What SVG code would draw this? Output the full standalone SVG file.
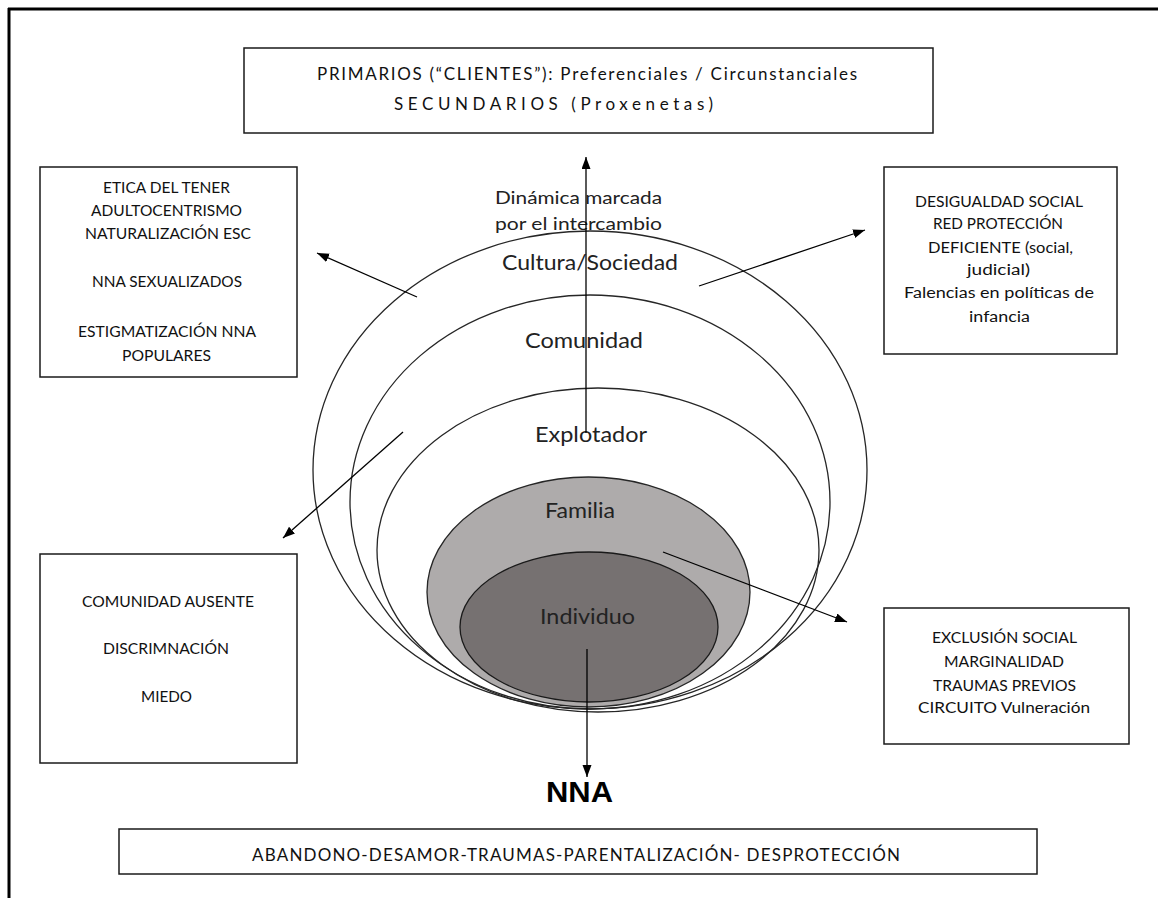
<svg xmlns="http://www.w3.org/2000/svg" width="1158" height="898" viewBox="0 0 1158 898">
<defs>
<marker id="ah" markerUnits="userSpaceOnUse" markerWidth="13" markerHeight="10" refX="12" refY="4.5" orient="auto"><path d="M0,0 L12,4.5 L0,9 z" fill="#000"/></marker>
<style>
.box{fill:#fff;stroke:#1a1a1a;stroke-width:1.5}
.ring{fill:none;stroke:#262626;stroke-width:1.3}
.lbl{font-family:Lato,"Open Sans","Liberation Sans",sans-serif;font-size:22px;fill:#222}
.lbl2{font-family:Lato,"Open Sans","Liberation Sans",sans-serif;font-size:18px;fill:#222}
.bt{font-family:Lato,"Liberation Sans",sans-serif;font-size:14.5px;fill:#111}
.tt{font-family:Lato,"Liberation Sans",sans-serif;font-size:17px;fill:#111}
.conn{stroke:#000;stroke-width:1.3;fill:none;marker-end:url(#ah)}
</style>
</defs>
<rect x="0" y="0" width="1158" height="898" fill="#fff"/>
<g id="frame" fill="none" stroke="#000" stroke-width="3">
<line x1="9" y1="8" x2="9" y2="898"/>
<line x1="8" y1="9" x2="1158" y2="9"/>
</g>

<g id="cultura">
<ellipse class="ring" cx="590" cy="470" rx="277" ry="239"/>
<text class="lbl" x="502" y="270" textLength="176" lengthAdjust="spacingAndGlyphs">Cultura/Sociedad</text>
</g>
<g id="comunidad">
<ellipse class="ring" cx="590" cy="502" rx="240" ry="207"/>
<text class="lbl" x="525" y="348" textLength="118" lengthAdjust="spacingAndGlyphs">Comunidad</text>
</g>
<g id="explotador">
<ellipse class="ring" cx="598" cy="550" rx="221" ry="162"/>
<text class="lbl" x="535" y="442" textLength="112" lengthAdjust="spacingAndGlyphs">Explotador</text>
</g>
<g id="familia">
<ellipse cx="588.5" cy="592" rx="161.5" ry="115" fill="#aeabab" stroke="#262626" stroke-width="1.3"/>
<text class="lbl" x="545" y="518" textLength="70" lengthAdjust="spacingAndGlyphs">Familia</text>
</g>
<g id="individuo">
<ellipse cx="589" cy="627" rx="129" ry="75" fill="#767171" stroke="#1a1a1a" stroke-width="1.3"/>
<text class="lbl" x="540" y="624" textLength="95" lengthAdjust="spacingAndGlyphs">Individuo</text>
</g>

<g id="dinamica">
<text class="lbl2" x="495" y="204" textLength="167" lengthAdjust="spacingAndGlyphs">Dinámica marcada</text>
<text class="lbl2" x="495" y="230" textLength="167" lengthAdjust="spacingAndGlyphs">por el intercambio</text>
</g>

<g id="top-box">
<rect class="box" x="244" y="48" width="689" height="85"/>
<text class="tt" x="317" y="80" textLength="540" lengthAdjust="spacing">PRIMARIOS (“CLIENTES”):  Preferenciales / Circunstanciales</text>
<text class="tt" x="394" y="110" font-size="18" textLength="319" lengthAdjust="spacing">SECUNDARIOS (Proxenetas)</text>
</g>

<g id="box-cultura-left">
<rect class="box" x="40" y="167" width="257" height="210"/>
<text class="bt" x="103" y="193" textLength="127" lengthAdjust="spacingAndGlyphs">ETICA DEL TENER</text>
<text class="bt" x="91" y="216" textLength="151" lengthAdjust="spacingAndGlyphs">ADULTOCENTRISMO</text>
<text class="bt" x="85" y="239" textLength="166" lengthAdjust="spacingAndGlyphs">NATURALIZACIÓN ESC</text>
<text class="bt" x="92" y="287" textLength="150" lengthAdjust="spacingAndGlyphs">NNA SEXUALIZADOS</text>
<text class="bt" x="78" y="337" textLength="178" lengthAdjust="spacingAndGlyphs">ESTIGMATIZACIÓN NNA</text>
<text class="bt" x="122" y="361" textLength="89" lengthAdjust="spacingAndGlyphs">POPULARES</text>
</g>

<g id="box-cultura-right">
<rect class="box" x="884" y="167" width="233" height="187"/>
<text class="bt" x="915" y="207" textLength="168" lengthAdjust="spacingAndGlyphs">DESIGUALDAD SOCIAL</text>
<text class="bt" x="933" y="229" textLength="130" lengthAdjust="spacingAndGlyphs">RED PROTECCIÓN</text>
<text class="bt" x="928" y="253" textLength="145" lengthAdjust="spacingAndGlyphs">DEFICIENTE (social,</text>
<text class="bt" x="967" y="275" textLength="63" lengthAdjust="spacingAndGlyphs">judicial)</text>
<text class="bt" x="904" y="298" textLength="190" lengthAdjust="spacingAndGlyphs">Falencias en políticas de</text>
<text class="bt" x="969" y="322" textLength="61" lengthAdjust="spacingAndGlyphs">infancia</text>
</g>

<g id="box-comunidad">
<rect class="box" x="40" y="554" width="257" height="209"/>
<text class="bt" x="82" y="607" textLength="172" lengthAdjust="spacingAndGlyphs">COMUNIDAD AUSENTE</text>
<text class="bt" x="103" y="654" textLength="126" lengthAdjust="spacingAndGlyphs">DISCRIMNACIÓN</text>
<text class="bt" x="141" y="702" textLength="51" lengthAdjust="spacingAndGlyphs">MIEDO</text>
</g>

<g id="box-familia">
<rect class="box" x="884" y="608" width="245" height="136"/>
<text class="bt" x="932" y="643" textLength="145" lengthAdjust="spacingAndGlyphs">EXCLUSIÓN SOCIAL</text>
<text class="bt" x="944" y="667" textLength="120" lengthAdjust="spacingAndGlyphs">MARGINALIDAD</text>
<text class="bt" x="933" y="691" textLength="143" lengthAdjust="spacingAndGlyphs">TRAUMAS PREVIOS</text>
<text class="bt" x="918" y="713" textLength="172" lengthAdjust="spacingAndGlyphs">CIRCUITO Vulneración</text>
</g>

<g id="nna">
<text x="546" y="802" font-family="Liberation Sans, Arial, sans-serif" font-weight="bold" font-size="30" fill="#000" textLength="67" lengthAdjust="spacingAndGlyphs">NNA</text>
</g>

<g id="box-individuo">
<rect class="box" x="119" y="829" width="918" height="45"/>
<text class="tt" x="252" y="861" textLength="648" lengthAdjust="spacing">ABANDONO-DESAMOR-TRAUMAS-PARENTALIZACIÓN- DESPROTECCIÓN</text>
</g>

<g id="connectors">
<line class="conn" x1="586" y1="433" x2="586" y2="157"/>
<line class="conn" x1="417" y1="297" x2="317" y2="253"/>
<line class="conn" x1="403" y1="432" x2="283" y2="538"/>
<line class="conn" x1="699" y1="286" x2="865" y2="230"/>
<line class="conn" x1="663" y1="552" x2="847" y2="622"/>
<line class="conn" x1="587" y1="649" x2="587" y2="777"/>
</g>
</svg>
